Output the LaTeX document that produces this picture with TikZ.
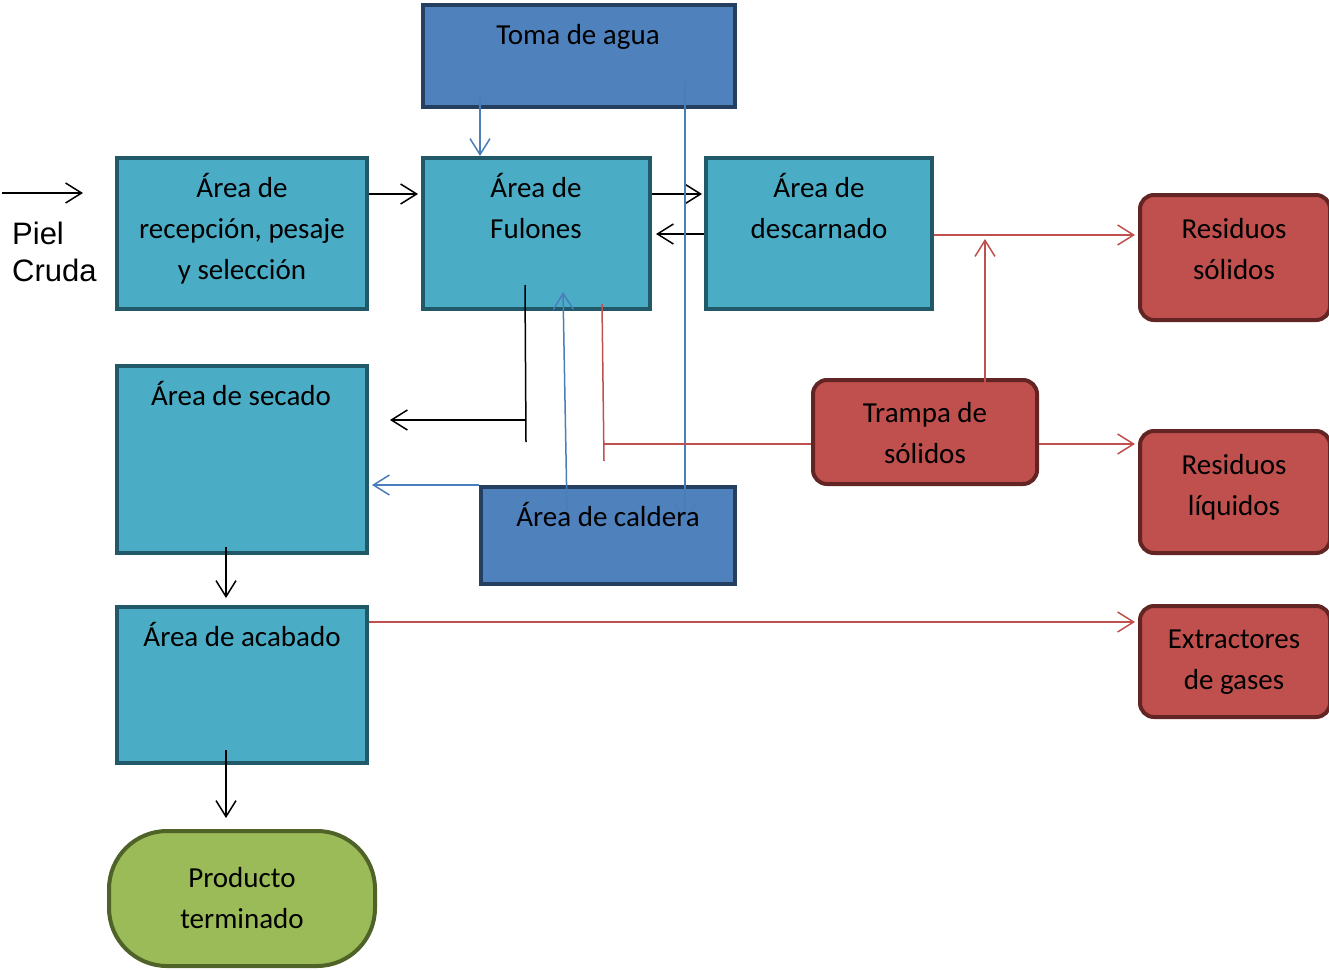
\documentclass[tikz,border=0pt]{standalone}
\usepackage{fontspec}
\setmainfont{Carlito}
\newfontfamily\arialf{Liberation Sans}
\usetikzlibrary{arrows.meta}
\definecolor{tealfill}{HTML}{4BACC6}
\definecolor{tealedge}{HTML}{215968}
\definecolor{bluefill}{HTML}{4F81BD}
\definecolor{blueedge}{HTML}{243F60}
\definecolor{redfill}{HTML}{C0504D}
\definecolor{rededge}{HTML}{632523}
\definecolor{greenfill}{HTML}{9BBB59}
\definecolor{greenedge}{HTML}{4F6228}
\definecolor{blueline}{HTML}{4A7EBB}
\definecolor{redline}{HTML}{C0504D}
\tikzset{
  box/.style={rectangle, line width=4pt, inner sep=0pt},
  tealbox/.style={box, draw=tealedge, fill=tealfill},
  bluebox/.style={box, draw=blueedge, fill=bluefill},
  redbox/.style={box, draw=rededge, fill=redfill, rounded corners=14pt},
  greenbox/.style={box, draw=greenedge, fill=greenfill, rounded corners=58pt},
  lbl/.style={font=\fontsize{29}{41}\selectfont, align=center, anchor=base, inner sep=0pt},
  tip/.style={-{Straight Barb[length=16pt,width=20pt]}},
  blk/.style={tip, line width=1.5pt, black},
  bl/.style={tip, line width=1.5pt, blueline},
  rd/.style={tip, line width=1.5pt, redline},
}
\begin{document}
\begin{tikzpicture}[x=1pt,y=-1pt]
\useasboundingbox (0,0) rectangle (1329,969);
% boxes
\node[bluebox, minimum width=312pt, minimum height=102pt] (toma) at (579,56) {};
\node[tealbox, minimum width=250pt, minimum height=151pt] (recep) at (242,233.5) {};
\node[tealbox, minimum width=227pt, minimum height=151pt] (fulones) at (536.5,233.5) {};
\node[tealbox, minimum width=226pt, minimum height=151pt] (desc) at (819,233.5) {};
\node[tealbox, minimum width=250pt, minimum height=187pt] (secado) at (242,459.5) {};
\node[tealbox, minimum width=250pt, minimum height=156pt] (acabado) at (242,685) {};
\node[bluebox, minimum width=254pt, minimum height=97pt] (caldera) at (608,535.5) {};
\node[redbox, minimum width=224pt, minimum height=104pt] (trampa) at (925,432) {};
\node[redbox, minimum width=190pt, minimum height=125pt] (ressol) at (1235,257.5) {};
\node[redbox, minimum width=190pt, minimum height=122pt] (resliq) at (1235,492) {};
\node[redbox, minimum width=190pt, minimum height=111pt] (extr) at (1235,661.5) {};
\node[greenbox, minimum width=266pt, minimum height=135pt] (producto) at (242,898.5) {};
% free ends
\coordinate (pielA) at (2,193);
\coordinate (pielB) at (83,193);
% connectors
\draw[blk] (pielA) -- (pielB);
\draw[blk] ([yshift=39.5pt]recep.east) -- ([yshift=39.5pt,xshift=-3pt]fulones.west);
\draw[blk] ([yshift=39.5pt]fulones.east) -- ([yshift=39.5pt,xshift=-2pt]desc.west);
\draw[blk] ([yshift=-0.5pt]desc.west) -- ([xshift=4pt,yshift=-0.5pt]fulones.east);
\draw[bl] ([xshift=-99pt,yshift=13pt]toma.south) -- ([xshift=-56.5pt]fulones.north);
\draw[bl] ([xshift=106pt,yshift=27pt]toma.south) -- ([xshift=77pt,yshift=-37pt]caldera.north);
\draw[bl] ([xshift=-41pt,yshift=-25pt]caldera.north) -- ([xshift=26.5pt,yshift=19pt]fulones.south);
\draw[bl] (caldera.north west) -- ([xshift=3pt,yshift=-25.5pt]secado.east);
\draw[line width=1.5pt] ([xshift=-11.5pt,yshift=26pt]fulones.south) -- ([xshift=-10.5pt,yshift=-131pt]fulones.south);
\draw[blk] ([xshift=-10.5pt,yshift=-109pt]fulones.south) -- ([xshift=21pt,yshift=39.5pt]secado.east);
\draw[line width=1.5pt, redline] ([xshift=65.5pt,yshift=7pt]fulones.south) -- ([xshift=67.5pt,yshift=-150pt]fulones.south);
\draw[line width=1.5pt, redline] ([xshift=67.5pt,yshift=-133pt]fulones.south) -- ([yshift=-12pt]trampa.west);
\draw[rd] ([yshift=-12pt]trampa.east) -- ([xshift=-3pt,yshift=48pt]resliq.west);
\draw[rd] ([xshift=60pt,yshift=-17pt]trampa.north) -- ([xshift=60pt,yshift=139pt]trampa.north);
\draw[rd] ([yshift=-1.5pt]desc.east) -- ([xshift=-3pt,yshift=22.5pt]ressol.west);
\draw[rd] ([yshift=63pt]acabado.east) -- ([xshift=-3pt,yshift=39.5pt]extr.west);
\draw[blk] ([xshift=-16pt,yshift=8pt]secado.south) -- ([xshift=-16pt,yshift=7pt]acabado.north);
\draw[blk] ([xshift=-16pt,yshift=15pt]acabado.south) -- ([xshift=-16pt,yshift=11pt]producto.north);
% labels (base anchor = baseline of last line)
\node[lbl] (t-toma) at (578,44) {Toma de agua};
\node[lbl] (t-recep) at (242,279) {Área de\\recepción, pesaje\\y selección};
\node[lbl] (t-ful) at (536,238) {Área de\\Fulones};
\node[lbl] (t-desc) at (819,238) {Área de\\descarnado};
\node[lbl] (t-sec) at (241,405) {Área de secado};
\node[lbl] (t-cal) at (608,526) {Área de caldera};
\node[lbl] (t-tra) at (925,463) {Trampa de\\sólidos};
\node[lbl] (t-rs) at (1234,279) {Residuos\\sólidos};
\node[lbl] (t-rl) at (1234,515) {Residuos\\líquidos};
\node[lbl] (t-ex) at (1234,689) {Extractores\\de gases};
\node[lbl] (t-aca) at (242,646) {Área de acabado};
\node[lbl] (t-pro) at (242,928) {Producto\\terminado};
\node[font=\fontsize{31}{37}\selectfont\arialf, align=left, anchor=base west, inner sep=0pt] (piel) at (12,281) {Piel\\Cruda};
\end{tikzpicture}
\end{document}
